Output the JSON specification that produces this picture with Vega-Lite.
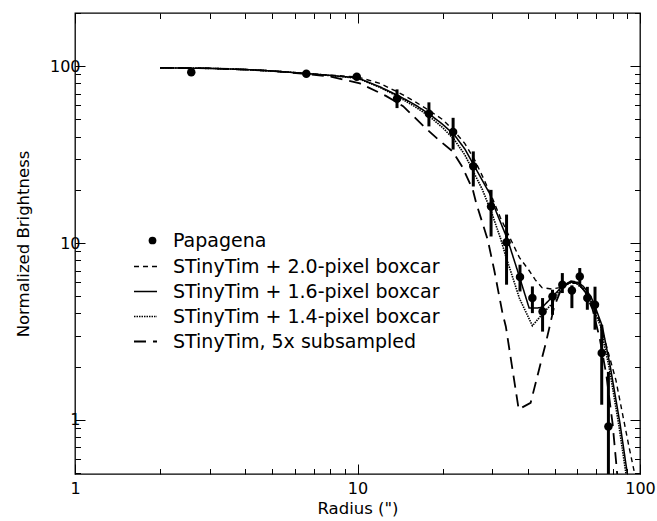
{
  "$schema": "https://vega.github.io/schema/vega-lite/v6.json",
  "width": 565,
  "height": 461,
  "autosize": {"type": "none"},
  "padding": {"left": 75, "top": 13, "right": 17, "bottom": 47},
  "background": "white",
  "config": {
    "view": {"stroke": "black", "strokeWidth": 1.3},
    "axis": {
      "domain": false, "grid": false, "tickColor": "black", "tickWidth": 1,
      "labelFont": "DejaVu Sans", "labelFontSize": 16, "labelColor": "black",
      "titleFont": "DejaVu Sans", "titleFontSize": 16.5, "titleFontWeight": "normal", "titleColor": "black",
      "labelOverlap": false, "labelBound": false, "labelFlush": false
    },
    "legend": {"labelFont": "DejaVu Sans", "labelFontSize": 19, "labelColor": "black", "labelLimit": 500}
  },
  "datasets": {
    "pts": [
      {"r": 2.58, "b": 92.5, "lo": 92.5, "hi": 92.5, "series": "Papagena"},
      {"r": 6.59, "b": 90.6, "lo": 90.6, "hi": 90.6, "series": "Papagena"},
      {"r": 9.94, "b": 87.1, "lo": 87.1, "hi": 87.1, "series": "Papagena"},
      {"r": 13.8, "b": 65.6, "lo": 58.0, "hi": 74.0, "series": "Papagena"},
      {"r": 17.9, "b": 53.8, "lo": 45.7, "hi": 62.5, "series": "Papagena"},
      {"r": 21.8, "b": 42.5, "lo": 33.8, "hi": 51.1, "series": "Papagena"},
      {"r": 25.7, "b": 27.2, "lo": 20.9, "hi": 33.0, "series": "Papagena"},
      {"r": 29.7, "b": 16.1, "lo": 10.9, "hi": 20.0, "series": "Papagena"},
      {"r": 33.7, "b": 10.1, "lo": 5.82, "hi": 14.5, "series": "Papagena"},
      {"r": 37.6, "b": 6.43, "lo": 5.33, "hi": 7.55, "series": "Papagena"},
      {"r": 41.6, "b": 4.89, "lo": 4.02, "hi": 5.69, "series": "Papagena"},
      {"r": 45.2, "b": 4.11, "lo": 3.16, "hi": 4.89, "series": "Papagena"},
      {"r": 49.0, "b": 4.99, "lo": 3.93, "hi": 5.45, "series": "Papagena"},
      {"r": 53.1, "b": 5.82, "lo": 5.22, "hi": 6.77, "series": "Papagena"},
      {"r": 57.4, "b": 5.40, "lo": 4.29, "hi": 5.77, "series": "Papagena"},
      {"r": 61.2, "b": 6.48, "lo": 5.69, "hi": 7.23, "series": "Papagena"},
      {"r": 65.1, "b": 4.89, "lo": 4.20, "hi": 5.66, "series": "Papagena"},
      {"r": 69.3, "b": 4.48, "lo": 3.24, "hi": 5.67, "series": "Papagena"},
      {"r": 73.2, "b": 2.39, "lo": 1.22, "hi": 3.45, "series": "Papagena"},
      {"r": 77.3, "b": 0.918, "lo": 0.3, "hi": 1.87, "series": "Papagena"}
    ],
    "models": [
      {"model": "STinyTim + 2.0-pixel boxcar", "r": 2, "b": 98},
      {"model": "STinyTim + 2.0-pixel boxcar", "r": 3, "b": 97.3},
      {"model": "STinyTim + 2.0-pixel boxcar", "r": 4, "b": 95.8},
      {"model": "STinyTim + 2.0-pixel boxcar", "r": 5, "b": 94},
      {"model": "STinyTim + 2.0-pixel boxcar", "r": 6.6, "b": 91},
      {"model": "STinyTim + 2.0-pixel boxcar", "r": 8, "b": 89},
      {"model": "STinyTim + 2.0-pixel boxcar", "r": 10, "b": 87},
      {"model": "STinyTim + 2.0-pixel boxcar", "r": 12, "b": 80},
      {"model": "STinyTim + 2.0-pixel boxcar", "r": 14, "b": 71},
      {"model": "STinyTim + 2.0-pixel boxcar", "r": 16, "b": 63},
      {"model": "STinyTim + 2.0-pixel boxcar", "r": 18, "b": 56},
      {"model": "STinyTim + 2.0-pixel boxcar", "r": 20, "b": 50},
      {"model": "STinyTim + 2.0-pixel boxcar", "r": 22, "b": 43},
      {"model": "STinyTim + 2.0-pixel boxcar", "r": 24, "b": 36.5},
      {"model": "STinyTim + 2.0-pixel boxcar", "r": 26, "b": 29.5},
      {"model": "STinyTim + 2.0-pixel boxcar", "r": 28, "b": 23},
      {"model": "STinyTim + 2.0-pixel boxcar", "r": 30, "b": 18},
      {"model": "STinyTim + 2.0-pixel boxcar", "r": 32, "b": 14},
      {"model": "STinyTim + 2.0-pixel boxcar", "r": 34.9, "b": 10.45},
      {"model": "STinyTim + 2.0-pixel boxcar", "r": 37.4, "b": 8.3},
      {"model": "STinyTim + 2.0-pixel boxcar", "r": 40.5, "b": 7.0},
      {"model": "STinyTim + 2.0-pixel boxcar", "r": 42.6, "b": 6.2},
      {"model": "STinyTim + 2.0-pixel boxcar", "r": 45, "b": 5.6},
      {"model": "STinyTim + 2.0-pixel boxcar", "r": 48.6, "b": 5.5},
      {"model": "STinyTim + 2.0-pixel boxcar", "r": 52, "b": 5.6},
      {"model": "STinyTim + 2.0-pixel boxcar", "r": 56, "b": 5.9},
      {"model": "STinyTim + 2.0-pixel boxcar", "r": 59.3, "b": 5.95},
      {"model": "STinyTim + 2.0-pixel boxcar", "r": 63, "b": 5.5},
      {"model": "STinyTim + 2.0-pixel boxcar", "r": 67.8, "b": 4.58},
      {"model": "STinyTim + 2.0-pixel boxcar", "r": 72, "b": 3.6},
      {"model": "STinyTim + 2.0-pixel boxcar", "r": 75.6, "b": 2.72},
      {"model": "STinyTim + 2.0-pixel boxcar", "r": 82.1, "b": 1.69},
      {"model": "STinyTim + 2.0-pixel boxcar", "r": 91.4, "b": 0.707},
      {"model": "STinyTim + 2.0-pixel boxcar", "r": 97, "b": 0.45},

      {"model": "STinyTim + 1.6-pixel boxcar", "r": 2, "b": 98},
      {"model": "STinyTim + 1.6-pixel boxcar", "r": 3, "b": 97.3},
      {"model": "STinyTim + 1.6-pixel boxcar", "r": 4, "b": 95.8},
      {"model": "STinyTim + 1.6-pixel boxcar", "r": 5, "b": 94},
      {"model": "STinyTim + 1.6-pixel boxcar", "r": 6.6, "b": 91},
      {"model": "STinyTim + 1.6-pixel boxcar", "r": 8, "b": 88.8},
      {"model": "STinyTim + 1.6-pixel boxcar", "r": 10, "b": 86},
      {"model": "STinyTim + 1.6-pixel boxcar", "r": 12, "b": 76.5},
      {"model": "STinyTim + 1.6-pixel boxcar", "r": 14, "b": 68},
      {"model": "STinyTim + 1.6-pixel boxcar", "r": 16, "b": 60.5},
      {"model": "STinyTim + 1.6-pixel boxcar", "r": 18, "b": 53.5},
      {"model": "STinyTim + 1.6-pixel boxcar", "r": 20, "b": 47},
      {"model": "STinyTim + 1.6-pixel boxcar", "r": 22, "b": 41},
      {"model": "STinyTim + 1.6-pixel boxcar", "r": 24, "b": 34},
      {"model": "STinyTim + 1.6-pixel boxcar", "r": 26, "b": 27},
      {"model": "STinyTim + 1.6-pixel boxcar", "r": 29.3, "b": 19.2},
      {"model": "STinyTim + 1.6-pixel boxcar", "r": 31, "b": 15},
      {"model": "STinyTim + 1.6-pixel boxcar", "r": 34, "b": 10.45},
      {"model": "STinyTim + 1.6-pixel boxcar", "r": 37.4, "b": 6.48},
      {"model": "STinyTim + 1.6-pixel boxcar", "r": 40.5, "b": 4.3},
      {"model": "STinyTim + 1.6-pixel boxcar", "r": 43.5, "b": 4.3},
      {"model": "STinyTim + 1.6-pixel boxcar", "r": 45.2, "b": 4.35},
      {"model": "STinyTim + 1.6-pixel boxcar", "r": 49, "b": 4.99},
      {"model": "STinyTim + 1.6-pixel boxcar", "r": 53.1, "b": 5.69},
      {"model": "STinyTim + 1.6-pixel boxcar", "r": 57, "b": 6.0},
      {"model": "STinyTim + 1.6-pixel boxcar", "r": 60, "b": 6.0},
      {"model": "STinyTim + 1.6-pixel boxcar", "r": 63, "b": 5.7},
      {"model": "STinyTim + 1.6-pixel boxcar", "r": 67, "b": 5.0},
      {"model": "STinyTim + 1.6-pixel boxcar", "r": 70, "b": 4.2},
      {"model": "STinyTim + 1.6-pixel boxcar", "r": 73.5, "b": 3.4},
      {"model": "STinyTim + 1.6-pixel boxcar", "r": 78.5, "b": 2.0},
      {"model": "STinyTim + 1.6-pixel boxcar", "r": 85, "b": 0.95},
      {"model": "STinyTim + 1.6-pixel boxcar", "r": 91, "b": 0.45},

      {"model": "STinyTim + 1.4-pixel boxcar", "r": 2, "b": 98},
      {"model": "STinyTim + 1.4-pixel boxcar", "r": 3, "b": 97.3},
      {"model": "STinyTim + 1.4-pixel boxcar", "r": 4, "b": 95.8},
      {"model": "STinyTim + 1.4-pixel boxcar", "r": 5, "b": 94},
      {"model": "STinyTim + 1.4-pixel boxcar", "r": 6.6, "b": 91},
      {"model": "STinyTim + 1.4-pixel boxcar", "r": 8, "b": 88.6},
      {"model": "STinyTim + 1.4-pixel boxcar", "r": 10, "b": 85.5},
      {"model": "STinyTim + 1.4-pixel boxcar", "r": 12, "b": 76},
      {"model": "STinyTim + 1.4-pixel boxcar", "r": 14, "b": 67},
      {"model": "STinyTim + 1.4-pixel boxcar", "r": 16, "b": 59},
      {"model": "STinyTim + 1.4-pixel boxcar", "r": 18, "b": 52},
      {"model": "STinyTim + 1.4-pixel boxcar", "r": 20, "b": 45},
      {"model": "STinyTim + 1.4-pixel boxcar", "r": 22, "b": 38.5},
      {"model": "STinyTim + 1.4-pixel boxcar", "r": 24, "b": 31.5},
      {"model": "STinyTim + 1.4-pixel boxcar", "r": 26, "b": 24.5},
      {"model": "STinyTim + 1.4-pixel boxcar", "r": 27.7, "b": 20},
      {"model": "STinyTim + 1.4-pixel boxcar", "r": 30, "b": 14.5},
      {"model": "STinyTim + 1.4-pixel boxcar", "r": 32.2, "b": 10.45},
      {"model": "STinyTim + 1.4-pixel boxcar", "r": 33.5, "b": 8.4},
      {"model": "STinyTim + 1.4-pixel boxcar", "r": 35, "b": 6.8},
      {"model": "STinyTim + 1.4-pixel boxcar", "r": 37.4, "b": 4.89},
      {"model": "STinyTim + 1.4-pixel boxcar", "r": 41.6, "b": 3.41},
      {"model": "STinyTim + 1.4-pixel boxcar", "r": 45, "b": 3.95},
      {"model": "STinyTim + 1.4-pixel boxcar", "r": 49, "b": 4.58},
      {"model": "STinyTim + 1.4-pixel boxcar", "r": 53.1, "b": 5.82},
      {"model": "STinyTim + 1.4-pixel boxcar", "r": 57, "b": 6.0},
      {"model": "STinyTim + 1.4-pixel boxcar", "r": 59.3, "b": 5.95},
      {"model": "STinyTim + 1.4-pixel boxcar", "r": 63, "b": 5.5},
      {"model": "STinyTim + 1.4-pixel boxcar", "r": 66, "b": 4.89},
      {"model": "STinyTim + 1.4-pixel boxcar", "r": 69, "b": 4.1},
      {"model": "STinyTim + 1.4-pixel boxcar", "r": 72.6, "b": 3.38},
      {"model": "STinyTim + 1.4-pixel boxcar", "r": 75, "b": 2.6},
      {"model": "STinyTim + 1.4-pixel boxcar", "r": 77.7, "b": 2.0},
      {"model": "STinyTim + 1.4-pixel boxcar", "r": 81, "b": 1.35},
      {"model": "STinyTim + 1.4-pixel boxcar", "r": 84.3, "b": 0.92},
      {"model": "STinyTim + 1.4-pixel boxcar", "r": 90, "b": 0.45},

      {"model": "STinyTim, 5x subsampled", "r": 2, "b": 98},
      {"model": "STinyTim, 5x subsampled", "r": 3, "b": 97.3},
      {"model": "STinyTim, 5x subsampled", "r": 4, "b": 95.8},
      {"model": "STinyTim, 5x subsampled", "r": 5, "b": 94},
      {"model": "STinyTim, 5x subsampled", "r": 6.6, "b": 90.5},
      {"model": "STinyTim, 5x subsampled", "r": 8, "b": 87.5},
      {"model": "STinyTim, 5x subsampled", "r": 10.2, "b": 80},
      {"model": "STinyTim, 5x subsampled", "r": 12.6, "b": 68},
      {"model": "STinyTim, 5x subsampled", "r": 14.5, "b": 59.5},
      {"model": "STinyTim, 5x subsampled", "r": 17.4, "b": 44.8},
      {"model": "STinyTim, 5x subsampled", "r": 19.5, "b": 38},
      {"model": "STinyTim, 5x subsampled", "r": 21.7, "b": 33.0},
      {"model": "STinyTim, 5x subsampled", "r": 23.5, "b": 27},
      {"model": "STinyTim, 5x subsampled", "r": 25.6, "b": 20},
      {"model": "STinyTim, 5x subsampled", "r": 26.3, "b": 16.9},
      {"model": "STinyTim, 5x subsampled", "r": 28.9, "b": 10.45},
      {"model": "STinyTim, 5x subsampled", "r": 30.5, "b": 7.0},
      {"model": "STinyTim, 5x subsampled", "r": 32.6, "b": 4.02},
      {"model": "STinyTim, 5x subsampled", "r": 33.5, "b": 3.38},
      {"model": "STinyTim, 5x subsampled", "r": 37.2, "b": 1.15},
      {"model": "STinyTim, 5x subsampled", "r": 41, "b": 1.25},
      {"model": "STinyTim, 5x subsampled", "r": 46.4, "b": 2.72},
      {"model": "STinyTim, 5x subsampled", "r": 49.7, "b": 4.38},
      {"model": "STinyTim, 5x subsampled", "r": 53.1, "b": 5.69},
      {"model": "STinyTim, 5x subsampled", "r": 57, "b": 6.1},
      {"model": "STinyTim, 5x subsampled", "r": 60, "b": 6.0},
      {"model": "STinyTim, 5x subsampled", "r": 64, "b": 5.3},
      {"model": "STinyTim, 5x subsampled", "r": 68, "b": 4.2},
      {"model": "STinyTim, 5x subsampled", "r": 72, "b": 2.9},
      {"model": "STinyTim, 5x subsampled", "r": 76, "b": 1.8},
      {"model": "STinyTim, 5x subsampled", "r": 80, "b": 0.95},
      {"model": "STinyTim, 5x subsampled", "r": 83.5, "b": 0.45}
    ]
  },
  "layer": [
    {
      "data": {"name": "models"},
      "mark": {"type": "line", "color": "black", "clip": true},
      "encoding": {
        "x": {"field": "r", "type": "quantitative",
              "scale": {"type": "log", "domain": [1, 100], "nice": false},
              "axis": {"orient": "bottom", "values": [1, 10, 100], "tickSize": -10, "format": "d",
                       "labelPadding": 16, "title": "Radius (\")", "titlePadding": 4}},
        "y": {"field": "b", "type": "quantitative",
              "scale": {"type": "log", "domain": [0.495, 200], "nice": false},
              "axis": {"orient": "left", "values": [1, 10, 100], "tickSize": -10, "format": "d",
                       "labelPadding": 5, "title": "Normalized Brightness", "titlePadding": 18}},
        "strokeDash": {"field": "model", "type": "nominal",
          "scale": {"domain": ["STinyTim + 2.0-pixel boxcar", "STinyTim + 1.6-pixel boxcar", "STinyTim + 1.4-pixel boxcar", "STinyTim, 5x subsampled"],
                    "range": [[5, 4], [1, 0], [1.5, 1], [12, 7]]},
          "legend": {"title": null, "orient": "none", "legendX": 58, "legendY": 241, "padding": 0,
                     "symbolType": "stroke", "symbolSize": 529, "symbolStrokeColor": "black", "symbolStrokeWidth": 1.4,
                     "labelOffset": 15, "rowPadding": 2, "labelFontSize": 19}},
        "strokeWidth": {"field": "model", "type": "nominal",
          "scale": {"domain": ["STinyTim + 2.0-pixel boxcar", "STinyTim + 1.6-pixel boxcar", "STinyTim + 1.4-pixel boxcar", "STinyTim, 5x subsampled"],
                    "range": [1.4, 1.8, 1.2, 1.5]},
          "legend": null}
      }
    },
    {
      "data": {"name": "pts"},
      "mark": {"type": "rule", "color": "black", "strokeWidth": 3, "clip": true},
      "encoding": {
        "x": {"field": "r", "type": "quantitative",
              "axis": {"orient": "bottom", "values": [2,3,4,5,6,7,8,9,20,30,40,50,60,70,80,90], "tickSize": -5.5, "labels": false, "title": null}},
        "y": {"field": "lo", "type": "quantitative",
              "axis": {"orient": "left", "values": [0.5,0.6,0.7,0.8,0.9,2,3,4,5,6,7,8,9,20,30,40,50,60,70,80,90,200], "tickSize": -5.5, "labels": false, "title": null}},
        "y2": {"field": "hi"}
      }
    },
    {
      "data": {"name": "pts"},
      "mark": {"type": "point", "filled": true, "size": 72, "color": "black", "opacity": 1, "clip": true},
      "encoding": {
        "x": {"field": "r", "type": "quantitative",
              "axis": {"orient": "top", "values": [1, 10, 100], "tickSize": -10, "labels": false, "title": null}},
        "y": {"field": "b", "type": "quantitative",
              "axis": {"orient": "right", "values": [1, 10, 100], "tickSize": -10, "labels": false, "title": null}},
        "shape": {"field": "series", "type": "nominal",
          "scale": {"domain": ["Papagena"], "range": ["circle"]},
          "legend": {"title": null, "orient": "none", "legendX": 68, "legendY": 218, "padding": 0,
                     "symbolSize": 60, "symbolFillColor": "black", "symbolStrokeColor": "black", "symbolStrokeWidth": 0,
                     "labelOffset": 11, "labelFontSize": 19}}
      }
    },
    {
      "data": {"name": "pts"},
      "mark": {"type": "point", "filled": true, "size": 1, "opacity": 0},
      "encoding": {
        "x": {"field": "r", "type": "quantitative",
              "axis": {"orient": "top", "values": [2,3,4,5,6,7,8,9,20,30,40,50,60,70,80,90], "tickSize": -5.5, "labels": false, "title": null}},
        "y": {"field": "b", "type": "quantitative",
              "axis": {"orient": "right", "values": [0.5,0.6,0.7,0.8,0.9,2,3,4,5,6,7,8,9,20,30,40,50,60,70,80,90,200], "tickSize": -5.5, "labels": false, "title": null}}
      }
    }
  ],
  "resolve": {"axis": {"x": "independent", "y": "independent"}}
}
